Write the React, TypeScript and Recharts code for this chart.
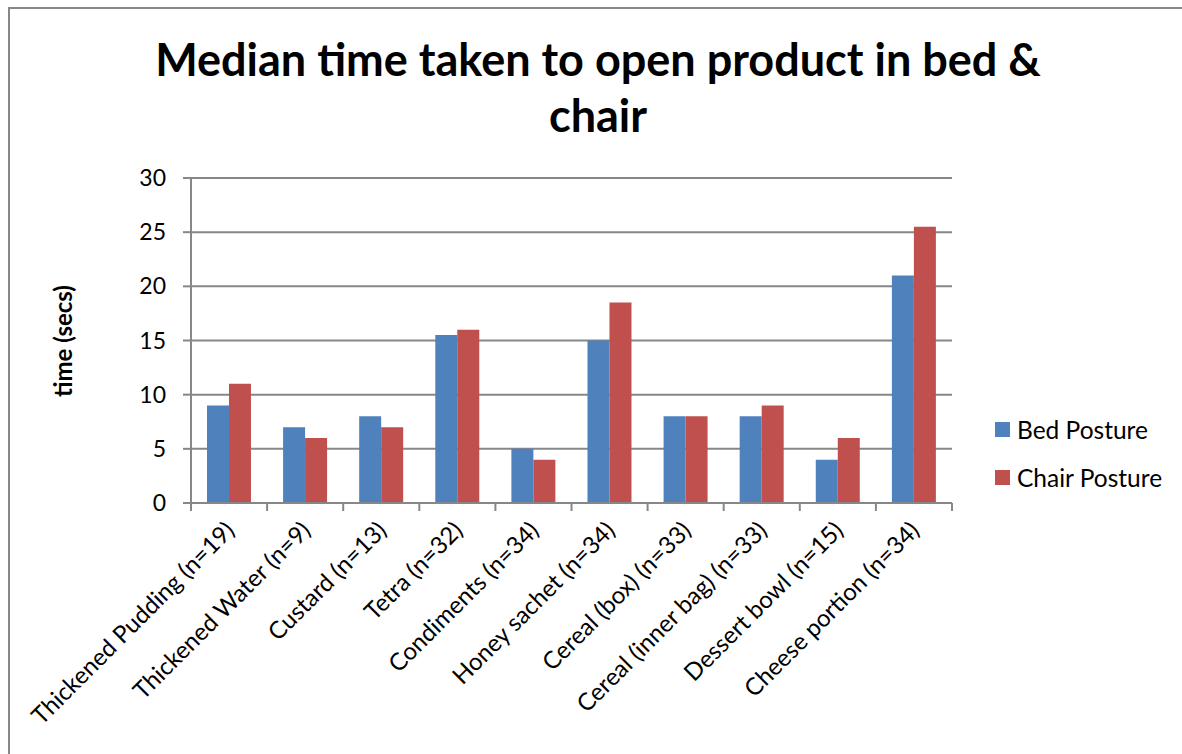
import React from "react";
import { BarChart, Bar, XAxis, YAxis, CartesianGrid } from "recharts";

const categories = [
  "Thickened Pudding (n=19)",
  "Thickened Water (n=9)",
  "Custard (n=13)",
  "Tetra (n=32)",
  "Condiments (n=34)",
  "Honey sachet (n=34)",
  "Cereal (box) (n=33)",
  "Cereal (inner bag) (n=33)",
  "Dessert bowl (n=15)",
  "Cheese portion (n=34)",
];
const bedPosture = [9, 7, 8, 15.5, 5, 15, 8, 8, 4, 21];
const chairPosture = [11, 6, 7, 16, 4, 18.5, 8, 9, 6, 25.5];
const yTicks = [0, 5, 10, 15, 20, 25, 30];
const seriesNames = ["Bed Posture", "Chair Posture"];
const seriesColors = ["#4F81BD", "#C0504D"];

const data = categories.map((c, i) => ({ name: c, bed: bedPosture[i], chair: chairPosture[i] }));

const FONT = "Lato, 'Open Sans', sans-serif";
const PLOT_LEFT = 191;
const PLOT_RIGHT = 952;
const BAND = (PLOT_RIGHT - PLOT_LEFT) / categories.length;
const GRAY = "#878787";

const XTick = (props: any) => {
  const { x, y, payload, index } = props;
  const left = x - BAND / 2;
  const isLast = index === categories.length - 1;
  const ax = x - 5;
  const ay = y + 9;
  return (
    <g>
      <line x1={left} y1={y - 8} x2={left} y2={y + 0} stroke={GRAY} strokeWidth={2} />
      {isLast && <line x1={left + BAND} y1={y - 8} x2={left + BAND} y2={y} stroke={GRAY} strokeWidth={2} />}
      <text
        x={ax}
        y={ay}
        textAnchor="end"
        fontSize={24}
        fontFamily={FONT}
        fill="#000"
        transform={`rotate(-45 ${ax} ${ay})`}
        dy="0.7em"
      >
        {payload.value}
      </text>
    </g>
  );
};

export default function App() {
  return (
    <div style={{ position: "absolute", left: 0, top: 0, width: 1182, height: 754, background: "#fff", overflow: "hidden" }}>
      <div
        style={{
          position: "absolute",
          left: 8,
          top: 7,
          width: 1200,
          height: 800,
          borderLeft: `2px solid ${GRAY}`,
          borderTop: `2px solid ${GRAY}`,
        }}
      />
      <div
        style={{
          position: "absolute",
          left: 0,
          top: 31,
          width: 1196,
          textAlign: "center",
          fontFamily: FONT,
          fontWeight: 700,
          fontSize: 45,
          lineHeight: "56px",
          color: "#000",
        }}
      >
        Median time taken to open product in bed &amp;
        <br />
        chair
      </div>
      <div
        style={{
          position: "absolute",
          left: 62,
          top: 341,
          transform: "translate(-50%, -50%) rotate(-90deg)",
          fontFamily: FONT,
          fontWeight: 700,
          fontSize: 24,
          whiteSpace: "nowrap",
          color: "#000",
        }}
      >
        time (secs)
      </div>
      <div style={{ position: "absolute", left: 0, top: 0 }}>
        <BarChart
          width={1182}
          height={754}
          data={data}
          margin={{ top: 178, right: 1182 - PLOT_RIGHT, left: PLOT_LEFT - 60, bottom: 11 }}
          barCategoryGap="21%"
          barGap={0}
        >
          <CartesianGrid vertical={false} stroke={GRAY} strokeWidth={2} />
          <XAxis
            dataKey="name"
            interval={0}
            height={240}
            axisLine={{ stroke: GRAY, strokeWidth: 2 }}
            tickLine={false}
            tick={<XTick />}
          />
          <YAxis
            width={60}
            domain={[0, 30]}
            ticks={yTicks}
            interval={0}
            axisLine={{ stroke: GRAY, strokeWidth: 2 }}
            tickLine={{ stroke: GRAY, strokeWidth: 2 }}
            tickSize={8}
            tickMargin={17}
            tick={{ fontSize: 23, fontFamily: FONT, fill: "#000" }}
          />
          <Bar dataKey="bed" name={seriesNames[0]} fill={seriesColors[0]} isAnimationActive={false} />
          <Bar dataKey="chair" name={seriesNames[1]} fill={seriesColors[1]} isAnimationActive={false} />
        </BarChart>
      </div>
      <div style={{ position: "absolute", left: 995, top: 405, fontFamily: FONT, fontSize: 24.5, color: "#000" }}>
        {seriesNames.map((label, i) => (
          <div key={i} style={{ display: "flex", alignItems: "center", height: 48 }}>
            <div style={{ width: 15, height: 15, background: seriesColors[i], marginRight: 7 }} />
            <span>{label}</span>
          </div>
        ))}
      </div>
    </div>
  );
}
